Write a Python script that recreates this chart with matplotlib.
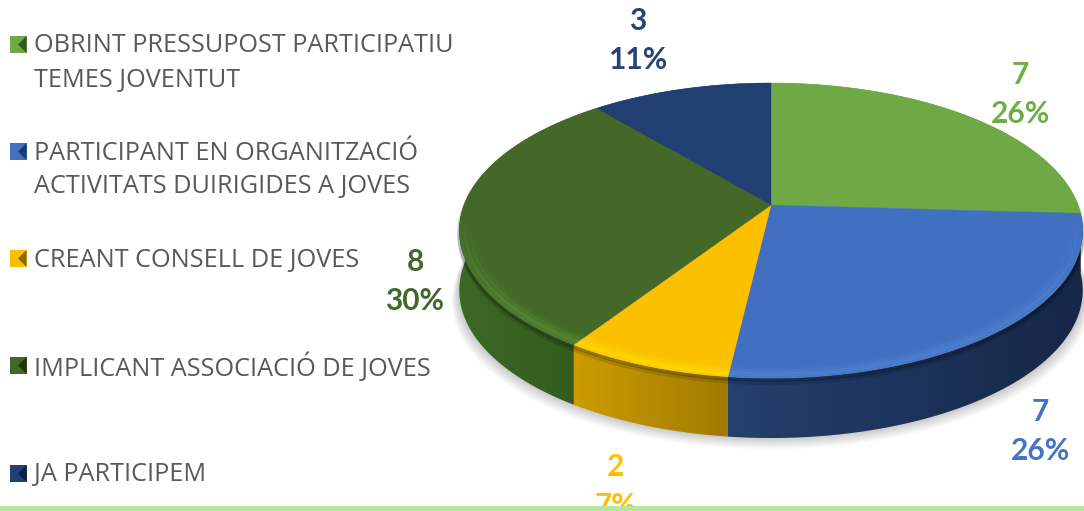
import numpy as np
import matplotlib
matplotlib.use("Agg")
import matplotlib.pyplot as plt
from matplotlib.patches import Polygon, Rectangle
from matplotlib.collections import LineCollection
from matplotlib.colors import to_rgb, LinearSegmentedColormap

categories = ["OBRINT PRESSUPOST PARTICIPATIU\nTEMES JOVENTUT",
              "PARTICIPANT EN ORGANITZACIÓ\nACTIVITATS DUIRIGIDES A JOVES",
              "CREANT CONSELL DE JOVES",
              "IMPLICANT ASSOCIACIÓ DE JOVES",
              "JA PARTICIPEM"]
values = [7, 7, 2, 8, 3]
percents = ["26%", "26%", "7%", "30%", "11%"]
top_colors = ["#6fa946", "#4170c0", "#fdc000", "#436828", "#213f73"]
label_colors = ["#70ad47", "#4472c4", "#ffc000", "#43682b", "#264478"]
wall_left = ["#6fa946", "#24406f", "#cc9c00", "#3c6825", "#213f73"]
wall_right = ["#4a7a2e", "#162748", "#a27a00", "#335a1d", "#213f73"]
rim_light = ["#8fc765", "#5c8ddc", "#ffee00", "#6aa844", "#3a5c98"]
legend_y = [44.5, 151.5, 258.5, 365.5, 473.5]
label_xy = [(1020, 75, 114), (1040, 412, 451), (616, 467, 506), (415, 262, 301), (638, 21, 60)]

# layout of the tilted pie, in figure pixels
APEX = (771.0, 205.0)
A, B, K = 307.0, 143.1, 0.1729
DEPTH = 60.0


def project(theta_deg, r=1.0):
    t = np.radians(theta_deg)
    u, v = r * np.sin(t), r * np.cos(t)
    w = 1 + K * v
    return APEX[0] + A * u / w, APEX[1] - B * v / w


def rim(t0, t1, r=1.0):
    th = np.linspace(t0, t1, max(int(abs(t1 - t0) * 2), 2))
    x, y = project(th, r)
    return np.column_stack([x, y])


fig = plt.figure(figsize=(10.84, 5.11), dpi=100)
ax = fig.add_axes([0, 0, 1, 1])
ax.set_xlim(0, 1084)
ax.set_ylim(511, 0)
ax.axis("off")

# soft shadow under the pie
whole = rim(0, 360)
for i in range(12):
    g = 1 + 0.0022 * i
    pts = whole.copy()
    pts[:, 0] = 771 + (pts[:, 0] - 771) * g
    pts[:, 1] = pts[:, 1] + DEPTH + 1.1 * i - 1
    ax.add_patch(Polygon(pts, closed=True, fc="#000000", ec="none", alpha=0.018, zorder=1))

edges = np.cumsum([0] + values) / sum(values) * 360
for i, c in enumerate(top_colors):
    t0, t1 = edges[i], edges[i + 1]
    r = rim(t0, t1)
    low = r + [0, DEPTH]
    wall = np.vstack([r, low[::-1]])
    poly = Polygon(wall, closed=True, fc="none", ec="none", zorder=2)
    ax.add_patch(poly)
    x0, x1 = wall[:, 0].min(), wall[:, 0].max()
    cmap = LinearSegmentedColormap.from_list("w", [wall_left[i], wall_right[i]])
    im = ax.imshow(np.linspace(0, 1, 64)[None, :], extent=(x0, x1, 511, 0), cmap=cmap,
                   aspect="auto", zorder=2, interpolation="bilinear")
    im.set_clip_path(poly)
ax.set_xlim(0, 1084)
ax.set_ylim(511, 0)

for i, c in enumerate(top_colors):
    r = rim(edges[i], edges[i + 1])
    ax.add_patch(Polygon(np.vstack([APEX, r]), closed=True, fc=c, ec=c, lw=0.3, zorder=3))

# bevel along the front of the rim, fading out towards the sides
for i, c in enumerate(top_colors):
    t0, t1 = edges[i], edges[i + 1]
    for rr, lw, al in [(0.995, 2.5, 0.30), (0.982, 2.5, 0.42), (0.968, 2.5, 0.25), (0.955, 2.5, 0.10)]:
        p = rim(t0, t1, rr)
        th = np.linspace(t0, t1, len(p))
        fade = np.clip((-np.cos(np.radians(th)) - 0.05) / 0.55, 0, 1)
        segs = np.stack([p[:-1], p[1:]], axis=1)
        rgba = [(*to_rgb(rim_light[i]), al * f) for f in fade[:-1]]
        ax.add_collection(LineCollection(segs, colors=rgba, linewidths=lw, zorder=4, capstyle="butt"))
    # soft dark band at the top of the wall, under the bevel
    for off, al in [(2, 0.22), (5, 0.12)]:
        p = rim(t0, t1) + [0, off]
        th = np.linspace(t0, t1, len(p))
        fade = np.clip((-np.cos(np.radians(th)) + 0.2) / 0.5, 0, 1)
        segs = np.stack([p[:-1], p[1:]], axis=1)
        rgba = [(0, 0, 0, al * f) for f in fade[:-1]]
        ax.add_collection(LineCollection(segs, colors=rgba, linewidths=3, zorder=2.5, capstyle="butt"))

# data labels
for (x, y1, y2), val, pct, col in zip(label_xy, values, percents, label_colors):
    ax.text(x, y1, str(val), color=col, fontsize=21.5, family="Lato", weight="bold",
            ha="center", va="center", zorder=5)
    ax.text(x, y2, pct, color=col, fontsize=21.5, family="Lato", weight="bold",
            ha="center", va="center", zorder=5)

# legend
mark_dark = ["#2f5a1d", "#1f3a6e", "#8a6a00", "#1e3412", "#111f3e"]
for y, name, c, d in zip(legend_y, categories, top_colors, mark_dark):
    ax.add_patch(Rectangle((9.5, y - 8.5), 17, 17, fc=c, ec="none", zorder=5))
    ax.add_patch(Polygon([(26.5, y - 8.5), (26.5, y + 8.5), (18, y)], closed=True, fc=d, ec="none", zorder=6))
    for j, line in enumerate(name.split("\n")):
        ax.text(34, y + 1.5 + 34 * j, line, color="#595959", fontsize=18.15, family="Open Sans",
                ha="left", va="center", zorder=5)

# pale green band along the bottom
ax.add_patch(Rectangle((0, 506), 1084, 5, fc="#b5e6a2", ec="none", zorder=8))

fig.savefig("out.png", dpi=100, facecolor="white")
